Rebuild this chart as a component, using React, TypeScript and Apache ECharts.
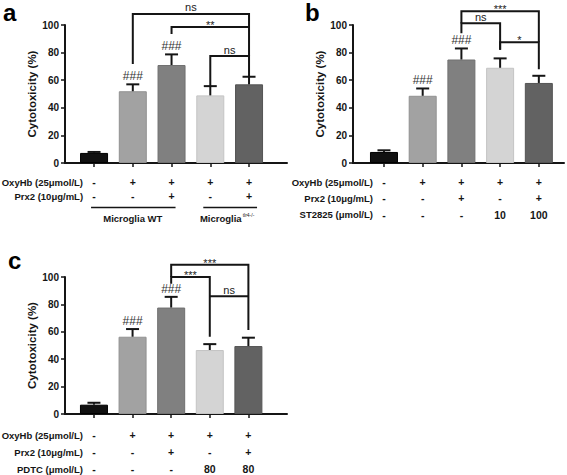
import React, { useEffect, useRef } from "react";
import * as echarts from "echarts";

const FONT = '"Liberation Sans", Arial, Helvetica, sans-serif';

// ---------- shared ----------
const positions = [1, 2, 3, 4, 5];
const barColors = ["#111111", "#a2a2a2", "#808080", "#d4d4d4", "#626262"];
const barEdges = ["#000000", "#929292", "#707070", "#c4c4c4", "#545454"];
const yTicks = [0, 20, 40, 60, 80, 100];
const yTitle = "Cytotoxicity (%)";

// ---------- panel a ----------
const meanA = [7.3, 52, 71, 49, 57];
const upperA = [8, 57, 78.7, 55.7, 62.5];
const hashA = ["", "###", "###", "", ""];
const rowNamesA = ["OxyHb (25μmol/L)", "Prx2 (10μg/mL)"];
const rowCellsA = [
  ["-", "+", "+", "+", "+"],
  ["-", "-", "+", "-", "+"],
];
const groupNamesA = ["Microglia WT", "Microglia"];
const groupSupA = ["", "tlr4-/-"];
const groupFromA = [1, 4];
const groupToA = [3, 5];
// [from, to, top, left leg bottom, right leg bottom]
const bracketsA = [
  [2, 5, 108, 71.7, 77],
  [3, 5, 98.5, 93.5, 98.5],
  [4, 5, 77.5, 55.8, 62.3],
];
const bracketLabelsA = ["ns", "**", "ns"];

// ---------- panel b ----------
const meanB = [8, 48.7, 75, 69, 58];
const upperB = [9.2, 54, 83, 75.8, 63.2];
const hashB = ["", "###", "###", "", ""];
const rowNamesB = ["OxyHb (25μmol/L)", "Prx2 (10μg/mL)", "ST2825 (μmol/L)"];
const rowCellsB = [
  ["-", "+", "+", "+", "+"],
  ["-", "-", "+", "-", "+"],
  ["-", "-", "-", "10", "100"],
];
const bracketsB = [
  [3, 5, 110, 101, 87.5],
  [3, 4, 101.2, 94, 82],
  [4, 5, 87.5, 82, 68],
];
const bracketLabelsB = ["***", "ns", "*"];

// ---------- panel c ----------
const meanC = [6.8, 56.4, 77.7, 46.7, 49.6];
const upperC = [8.2, 62, 85.5, 51, 55.7];
const hashC = ["", "###", "###", "", ""];
const rowNamesC = ["OxyHb (25μmol/L)", "Prx2 (10μg/mL)", "PDTC (μmol/L)"];
const rowCellsC = [
  ["-", "+", "+", "+", "+"],
  ["-", "-", "+", "-", "+"],
  ["-", "-", "-", "80", "80"],
];
const bracketsC = [
  [3, 5, 109, 100, 61.3],
  [3, 4, 100, 95, 56.4],
  [4, 5, 86, 86, 86],
];
const bracketLabelsC = ["***", "***", "ns"];

// ---------- layout (not data) ----------
const panels = [
  {
    letter: "a", letterX: 3, letterY: 0,
    grid: { left: 65, top: 25, width: 222, height: 138 },
    xMin: 0.25, xMax: 5.98, rowOffsets: [19, 33],
    mean: meanA, upper: upperA, hash: hashA, rowNames: rowNamesA, rowCells: rowCellsA,
    brackets: bracketsA, bracketLabels: bracketLabelsA, groups: true,
  },
  {
    letter: "b", letterX: 305, letterY: 0,
    grid: { left: 353, top: 25, width: 211, height: 138 },
    xMin: 0.2, xMax: 5.65, rowOffsets: [19, 35, 51.5],
    mean: meanB, upper: upperB, hash: hashB, rowNames: rowNamesB, rowCells: rowCellsB,
    brackets: bracketsB, bracketLabels: bracketLabelsB, groups: false,
  },
  {
    letter: "c", letterX: 8, letterY: 248,
    grid: { left: 65, top: 277, width: 222, height: 137 },
    xMin: 0.25, xMax: 6, rowOffsets: [21, 38, 55],
    mean: meanC, upper: upperC, hash: hashC, rowNames: rowNamesC, rowCells: rowCellsC,
    brackets: bracketsC, bracketLabels: bracketLabelsC, groups: false,
  },
];

const INK = "#151515";

function buildOption() {
  const grid: any[] = [];
  const xAxis: any[] = [];
  const yAxis: any[] = [];
  const series: any[] = [];
  const graphic: any[] = [];

  panels.forEach((p, pi) => {
    grid.push({ ...p.grid, containLabel: false });
    xAxis.push({
      type: "value", gridIndex: pi, min: p.xMin, max: p.xMax,
      axisLine: { show: true, onZero: false, lineStyle: { color: INK, width: 2 } },
      axisTick: { show: true, customValues: positions, length: 4, inside: false, lineStyle: { color: INK, width: 1.5 } },
      axisLabel: { show: false },
      splitLine: { show: false },
    });
    yAxis.push({
      type: "value", gridIndex: pi, min: 0, max: 100, interval: 20,
      axisLine: { show: true, lineStyle: { color: INK, width: 2 } },
      axisTick: { show: true, length: 4, inside: false, lineStyle: { color: INK, width: 1.5 } },
      axisLabel: { show: true, margin: 6, color: INK, fontSize: 10, fontWeight: "bold", fontFamily: FONT, customValues: yTicks },
      splitLine: { show: false },
      name: yTitle, nameLocation: "middle", nameGap: 26,
      nameTextStyle: { color: INK, fontSize: 11.5, fontWeight: "bold", fontFamily: FONT },
    });

    // bars
    series.push({
      type: "bar", xAxisIndex: pi, yAxisIndex: pi, barWidth: 28, silent: true,
      data: positions.map((x, i) => ({
        value: [x, p.mean[i]],
        itemStyle: { color: barColors[i], borderColor: barEdges[i], borderWidth: 1 },
      })),
    });

    // error bars + ### marks
    series.push({
      type: "custom", xAxisIndex: pi, yAxisIndex: pi, silent: true, z: 3,
      data: positions.map((x, i) => [x, p.mean[i], p.upper[i]]),
      renderItem: (params: any, api: any) => {
        const i = params.dataIndex;
        const x = api.value(0);
        const m = api.value(1);
        const u = api.value(2);
        const a = api.coord([x, m]);
        const b = api.coord([x, u]);
        const children: any[] = [
          { type: "line", shape: { x1: a[0], y1: a[1], x2: b[0], y2: b[1] }, style: { stroke: INK, lineWidth: 2 } },
          { type: "line", shape: { x1: b[0] - 6.5, y1: b[1], x2: b[0] + 6.5, y2: b[1] }, style: { stroke: INK, lineWidth: 2 } },
        ];
        if (p.hash[i]) {
          children.push({
            type: "text",
            style: { text: p.hash[i], x: b[0], y: b[1] - 8, align: "center", verticalAlign: "middle", fontSize: 12, fontFamily: FONT, fill: "#333333" },
          });
        }
        return { type: "group", children };
      },
    });

    // significance brackets
    series.push({
      type: "custom", xAxisIndex: pi, yAxisIndex: pi, silent: true, z: 4, clip: false,
      data: p.brackets.map((b) => [b[0], b[2]]),
      renderItem: (params: any, api: any) => {
        const i = params.dataIndex;
        const [x1, x2, yTop, yl, yr] = p.brackets[i];
        const L = api.coord([x1, yTop]);
        const R = api.coord([x2, yTop]);
        const Lb = api.coord([x1, yl]);
        const Rb = api.coord([x2, yr]);
        const label = p.bracketLabels[i];
        const star = label.indexOf("*") >= 0;
        return {
          type: "group",
          children: [
            {
              type: "polyline",
              shape: { points: [[Lb[0], Lb[1]], [L[0], L[1]], [R[0], R[1]], [Rb[0], Rb[1]]] },
              style: { stroke: INK, lineWidth: 2, fill: null },
            },
            {
              type: "text",
              style: {
                text: label, x: (L[0] + R[0]) / 2, y: L[1] + (star ? 3.5 : -1),
                align: "center", verticalAlign: "bottom", fontSize: 11, fontFamily: FONT, fill: "#222",
              },
            },
          ],
        };
      },
    });

    // condition table under the axis
    series.push({
      type: "custom", xAxisIndex: pi, yAxisIndex: pi, silent: true, clip: false,
      data: p.rowNames.map(() => [1, 0]),
      renderItem: (params: any, api: any) => {
        const r = params.dataIndex;
        const base = api.coord([1, 0]);
        const y = base[1] + p.rowOffsets[r];
        const children: any[] = [
          {
            type: "text",
            style: { text: p.rowNames[r], x: base[0] - 11, y, align: "right", verticalAlign: "middle", fontSize: 9.5, fontWeight: "bold", fontFamily: FONT, fill: INK },
          },
        ];
        positions.forEach((x, k) => {
          const c = api.coord([x, 0]);
          children.push({
            type: "text",
            style: { text: p.rowCells[r][k], x: c[0], y, align: "center", verticalAlign: "middle", fontSize: 10.5, fontWeight: "bold", fontFamily: FONT, fill: INK },
          });
        });
        return { type: "group", children };
      },
    });

    if (p.groups) {
      series.push({
        type: "custom", xAxisIndex: pi, yAxisIndex: pi, silent: true, clip: false,
        data: groupFromA.map((f) => [f, 0]),
        renderItem: (params: any, api: any) => {
          const g = params.dataIndex;
          const a = api.coord([groupFromA[g], 0]);
          const b = api.coord([groupToA[g], 0]);
          const lineY = a[1] + 44.5;
          const textY = a[1] + 55;
          const x1 = g === 0 ? a[0] - 3 : a[0] - 7;
          const x2 = g === 0 ? b[0] + 4 : b[0] + 8;
          const cx = (a[0] + b[0]) / 2;
          const children: any[] = [
            { type: "line", shape: { x1, y1: lineY, x2, y2: lineY }, style: { stroke: INK, lineWidth: 1.5 } },
          ];
          if (groupSupA[g]) {
            children.push({
              type: "text",
              style: { text: groupNamesA[g], x: cx + 12, y: textY, align: "right", verticalAlign: "middle", fontSize: 9.5, fontWeight: "bold", fontFamily: FONT, fill: INK },
            });
            children.push({
              type: "text",
              style: { text: groupSupA[g], x: cx + 13, y: textY - 3, align: "left", verticalAlign: "middle", fontSize: 5, fontFamily: FONT, fill: INK },
            });
          } else {
            children.push({
              type: "text",
              style: { text: groupNamesA[g], x: cx, y: textY, align: "center", verticalAlign: "middle", fontSize: 9.5, fontWeight: "bold", fontFamily: FONT, fill: INK },
            });
          }
          return { type: "group", children };
        },
      });
    }

    graphic.push({
      type: "text", left: p.letterX, top: p.letterY,
      style: { text: p.letter, fontSize: 24, fontWeight: "bold", fontFamily: FONT, fill: "#000" },
    });
  });

  return {
    animation: false,
    backgroundColor: "#ffffff",
    grid, xAxis, yAxis, series, graphic,
  };
}

export default function App() {
  const ref = useRef<HTMLDivElement>(null);
  useEffect(() => {
    if (!ref.current) return;
    const chart = echarts.init(ref.current, undefined, { renderer: "svg" });
    chart.setOption(buildOption() as any);
    return () => chart.dispose();
  }, []);
  return (
    <div
      ref={ref}
      style={{ position: "absolute", left: 0, top: 0, width: 567, height: 475, background: "#fff" }}
    />
  );
}
